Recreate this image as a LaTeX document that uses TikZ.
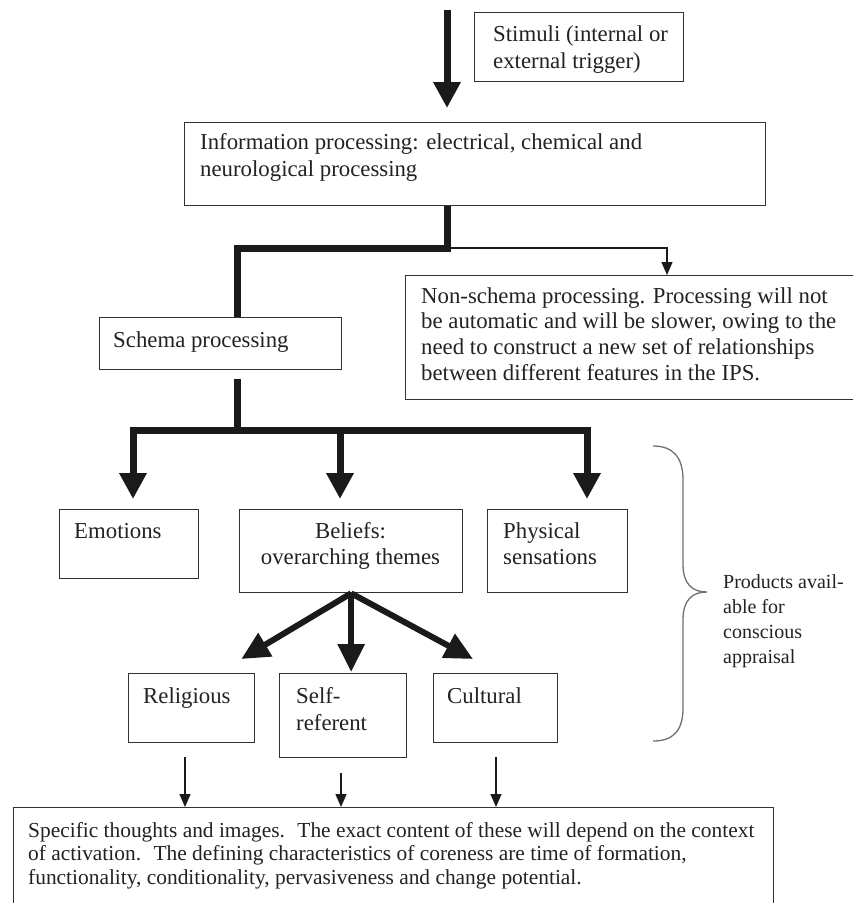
\documentclass[tikz,border=0pt]{standalone}
\usepackage{fontspec}
\setmainfont{Liberation Serif}
\usetikzlibrary{arrows.meta,calc}
\definecolor{lc}{HTML}{1A1A1A}
\definecolor{bc}{HTML}{333333}
\definecolor{tc}{HTML}{222222}
\definecolor{brc}{HTML}{707070}
\tikzset{
  box/.style={draw=bc, line width=1.3pt, inner sep=0pt, anchor=north west},
  txt/.style={inner sep=0pt, text=tc, anchor=north west, align=left},
  stxt/.style={inner sep=0pt, text=tc, anchor=base west},
  thickline/.style={draw=lc, line width=7pt},
  thickarrow/.style={draw=lc, line width=7pt, -{Triangle[length=26pt,width=26pt]}},
  diagarrow/.style={draw=lc, line width=6pt, -{Triangle[length=28pt,width=26pt]}},
  thinarrow/.style={draw=lc, line width=1.4pt, -{Triangle[length=13pt,width=11pt]}},
}
\newcommand{\mfont}[1]{\fontsize{22.8}{#1}\selectfont}
\begin{document}
\begin{tikzpicture}[x=1pt,y=-1pt]
\useasboundingbox (0,0) rectangle (853,903);

% boxes
\node[box, minimum width=209pt, minimum height=69pt] (stim) at (474,12) {};
\node[box, minimum width=581pt, minimum height=83pt] (info) at (184,122) {};
\node[box, minimum width=460pt, minimum height=124pt] (nons) at (405,275) {};
\node[box, minimum width=242pt, minimum height=52pt] (schema) at (99,317) {};
\node[box, minimum width=139pt, minimum height=69pt] (emo) at (59,509) {};
\node[box, minimum width=223pt, minimum height=83pt] (bel) at (239,509) {};
\node[box, minimum width=140pt, minimum height=83pt] (phys) at (487,509) {};
\node[box, minimum width=126pt, minimum height=69pt] (rel) at (128,673) {};
\node[box, minimum width=127pt, minimum height=84pt] (selfr) at (279,673) {};
\node[box, minimum width=124pt, minimum height=69pt] (cult) at (433,673) {};
\node[box, minimum width=760pt, minimum height=130pt] (spec) at (13,807) {};

% texts
\node[txt, font=\mfont{27}] (tstim) at (493,22.1) {\strut Stimuli (internal or\\external trigger)};
\node[txt, font=\mfont{27}] (tinfo) at (200,130.1) {\strut Information processing: electrical, chemical and\\neurological processing};
\node[txt, font=\mfont{25.7}] (tnons) at (421,285.0) {\strut Non-schema processing. Processing will not\\be automatic and will be slower, owing to the\\need to construct a new set of relationships\\between different features in the IPS.};
\node[stxt, font=\mfont{27}] (tschema) at (113,347) {Schema processing};
\node[stxt, font=\mfont{27}] (temo) at (74,538) {Emotions};
\node[txt, anchor=north, align=center, font=\mfont{26}] (tbel) at (350.5,519.8) {\strut Beliefs:\\overarching themes};
\node[txt, font=\mfont{26}] (tphys) at (503,519.8) {\strut Physical\\sensations};
\node[stxt, font=\mfont{27}] (trel) at (143,703) {Religious};
\node[txt, font=\mfont{27}] (tselfr) at (296,684.1) {\strut Self-\\referent};
\node[stxt, font=\mfont{27}] (tcult) at (447,703) {Cultural};
\node[txt, font=\fontsize{21.4}{23.5}\selectfont] (tspec) at (28,820.55) {\strut Specific thoughts and images.~ The exact content of these will depend on the context\\of activation.~ The defining characteristics of coreness are time of formation,\\functionality, conditionality, pervasiveness and change potential.};
\node[txt, font=\fontsize{20}{25}\selectfont] (tprod) at (723,570.5) {\strut Products avail-\\able for\\conscious\\appraisal};

% coordinates
\coordinate (top) at (447,10);
\coordinate (j1) at (447,248);
\coordinate (j2) at (237,248);
\coordinate (j3) at (667,248);
\coordinate (s0) at (237,379);
\coordinate (bl) at (133,430);
\coordinate (bm) at (340,430);
\coordinate (br) at (587,430);
\coordinate (a1) at (185,757);
\coordinate (a2) at (341,773);
\coordinate (a3) at (496,757);

% connectors
\draw[thickarrow, shorten >=14pt] (top) -- (top |- info.north);
\draw[thickline] (info.south -| j1) -- (j1) -- (j2) -- (j2 |- schema.north);
\draw[thinarrow] (j1) -- (j3) -- (j3 |- nons.north);
\draw[thickline] (s0) -- (s0 |- bl);
\draw[thickline, line cap=rect] (bl) -- (br);
\draw[thickarrow, shorten >=10pt] (bl) -- (bl |- emo.north);
\draw[thickarrow, shorten >=10pt] (bm) -- (bm |- bel.north);
\draw[thickarrow, shorten >=10pt] (br) -- (br |- phys.north);
\draw[diagarrow] (bel.south) -- ($(rel.north east)+(-14,-14)$);
\draw[diagarrow] (bel.south) -- ($(bel.south |- selfr.north)+(0,-1)$);
\draw[diagarrow] (bel.south) -- ($(cult.north west)+(40,-14)$);
\draw[thinarrow] (a1) -- (a1 |- spec.north);
\draw[thinarrow] (a2) -- (a2 |- spec.north);
\draw[thinarrow] (a3) -- (a3 |- spec.north);

% brace
\draw[brc, line width=1.3pt] (653,446) .. controls (672,446) and (683,456) .. (683,480)
  -- (683,564) .. controls (683,584) and (692,592) .. (707,592)
  .. controls (692,592) and (683,600) .. (683,620)
  -- (683,708) .. controls (683,732) and (672,741) .. (653,741);
\end{tikzpicture}
\end{document}
